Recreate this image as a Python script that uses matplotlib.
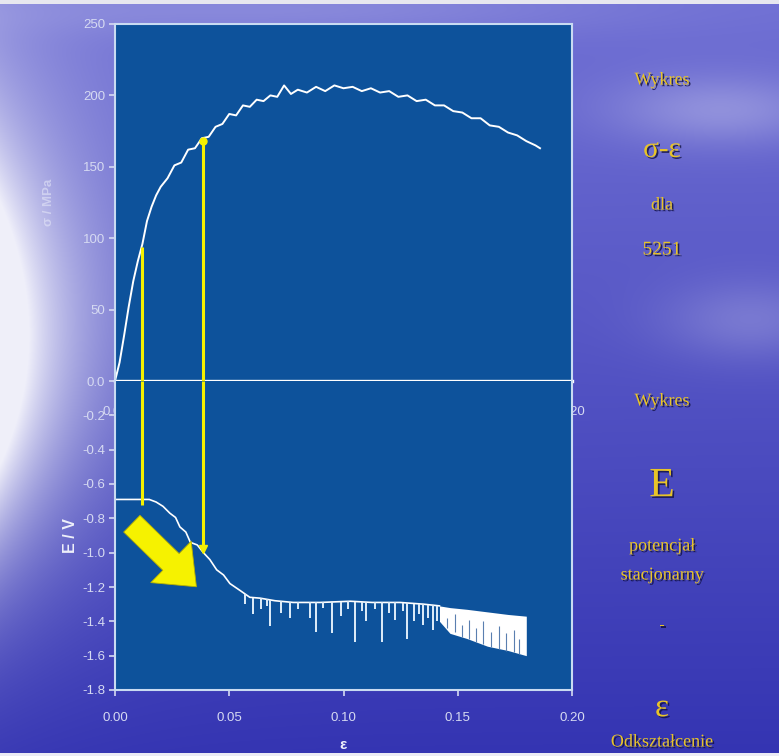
"""
Wykres sigma-epsilon oraz potencjal stacjonarny E - odksztalcenie dla 5251
"""

import numpy as np
import matplotlib
matplotlib.use('Agg')
from matplotlib import pyplot as plt
from matplotlib import patheffects as pe
from matplotlib.patches import FancyArrowPatch

plt.rcParams['font.family'] = ['Liberation Sans', 'DejaVu Sans']

# stress - strain curve
strain_s = [0.000, 0.002, 0.004, 0.006, 0.008, 0.010, 0.012, 0.014, 0.016, 0.018,
            0.020, 0.023, 0.026, 0.029, 0.032, 0.035, 0.038, 0.041, 0.044, 0.047,
            0.050, 0.053, 0.056, 0.059, 0.062, 0.065, 0.068, 0.071, 0.074, 0.077,
            0.080, 0.084, 0.088, 0.092, 0.096, 0.100, 0.104, 0.108, 0.112, 0.116,
            0.120, 0.124, 0.128, 0.132, 0.136, 0.140, 0.144, 0.148, 0.152, 0.156,
            0.160, 0.164, 0.168, 0.172, 0.176, 0.180, 0.184, 0.186]
stress = [0, 13, 32, 52, 70, 84, 96, 112, 122, 130,
          136, 142, 151, 153, 162, 163, 170, 171, 178, 180,
          187, 186, 193, 192, 197, 196, 200, 199, 207, 201,
          204, 202, 206, 203, 207, 205, 206, 203, 205, 202,
          203, 199, 200, 196, 197, 193, 193, 189, 188, 184,
          184, 179, 178, 174, 172, 168, 165, 163]

# stationary potential - strain (base line)
strain_e = [0.000, 0.015, 0.018, 0.021, 0.024, 0.0265, 0.0284, 0.031, 0.033, 0.036,
            0.0387, 0.0415, 0.0445, 0.0475, 0.0503, 0.0547, 0.059, 0.0635, 0.070, 0.078,
            0.0897, 0.103, 0.1125, 0.1247, 0.135, 0.142]
potential = [-0.69, -0.69, -0.705, -0.73, -0.77, -0.795, -0.85, -0.88, -0.94, -0.955,
             -1.00, -1.04, -1.10, -1.13, -1.18, -1.22, -1.26, -1.265, -1.28, -1.29,
             -1.29, -1.283, -1.29, -1.29, -1.30, -1.31]

# downward spikes of the potential
spike_x = [0.057, 0.0605, 0.064, 0.0665, 0.068, 0.0725, 0.0765, 0.080, 0.0853,
           0.088, 0.091, 0.0948, 0.099, 0.102, 0.105, 0.108, 0.110, 0.114, 0.1167,
           0.120, 0.1225, 0.126, 0.128, 0.131, 0.133, 0.135, 0.137, 0.139, 0.141]
spike_bottom = [-1.30, -1.36, -1.33, -1.31, -1.43, -1.35, -1.38, -1.33, -1.38,
                -1.46, -1.32, -1.47, -1.37, -1.33, -1.52, -1.34, -1.40, -1.33, -1.52,
                -1.35, -1.39, -1.34, -1.50, -1.40, -1.36, -1.42, -1.38, -1.45, -1.40]

# dense oscillation band at the end
band_x = [0.142, 0.1466, 0.154, 0.163, 0.172, 0.180]
band_top = [-1.31, -1.32, -1.33, -1.345, -1.36, -1.37]
band_bottom = [-1.40, -1.47, -1.50, -1.545, -1.57, -1.60]
gap_x = [0.1455, 0.149, 0.152, 0.155, 0.158, 0.161, 0.1645, 0.168, 0.171, 0.1745, 0.177]
gap_top = [-1.38, -1.36, -1.42, -1.39, -1.44, -1.40, -1.46, -1.43, -1.47, -1.45, -1.50]
gap_bottom = [-1.44, -1.46, -1.49, -1.50, -1.52, -1.53, -1.55, -1.56, -1.57, -1.58, -1.59]

# yellow markers linking both plots
link_x = [0.0117, 0.0387]
link_stress = [94, 168]
link_potential = [-0.72, -0.98]

yticks_s = [0, 50, 100, 150, 200, 250]
yticklabels_s = ["0.0", "50", "100", "150", "200", "250"]
yticks_e = [-0.2, -0.4, -0.6, -0.8, -1.0, -1.2, -1.4, -1.6, -1.8]
xticks = [0.00, 0.05, 0.10, 0.15, 0.20]
xticklabels = ["0.00", "0.05", "0.10", "0.15", "0.20"]

W, H = 779, 756
face = '#0d529b'
tickc = '#d6daf2'
spinec = '#c9dbf2'
gold = '#e8c428'


def background():
	yy, xx = np.mgrid[0:H, 0:W].astype(float)
	t = yy / H
	r = 112 + (52 - 112) * t
	g = 112 + (52 - 112) * t
	b = 212 + (178 - 212) * t
	glow = 0.95 * np.exp(-xx / 60.0) * np.exp(-((yy - 350) / 180.0) ** 2)
	glow += 0.55 * np.exp(-xx / 110.0) * np.exp(-((yy - 280) / 280.0) ** 2)
	cloud = 0.30 * np.exp(-((xx - 720) / 110.0) ** 2 - ((yy - 110) / 35.0) ** 2)
	cloud += 0.22 * np.exp(-((xx - 750) / 90.0) ** 2 - ((yy - 320) / 40.0) ** 2)
	cloud += 0.18 * np.exp(-((xx - 300) / 300.0) ** 2 - ((yy - 10) / 25.0) ** 2)
	k = np.clip(glow + cloud, 0, 1)
	img = np.stack([r + (240 - r) * k, g + (240 - g) * k, b + (250 - b) * k], axis=-1)
	img[:4] = [232, 232, 240]
	img[-3:] = [236, 236, 246]
	return img / 255.0


def main():
	fig = plt.figure(figsize=(W / 100, H / 100), dpi=100)
	bg = fig.add_axes([0, 0, 1, 1])
	bg.imshow(background(), aspect='auto', extent=[0, 1, 0, 1])
	bg.axis('off')

	left, width = 115 / W, 457 / W
	zero = 1 - 381 / H
	ax1 = fig.add_axes([left, zero, width, (381 - 24) / H])
	ax2 = fig.add_axes([left, 1 - 690 / H, width, (690 - 381) / H])

	# upper plot: stress
	ax1.set_facecolor(face)
	ax1.plot(strain_s, stress, color='white', lw=1.4)
	ax1.vlines(link_x, 0, link_stress, color='#f4f000', lw=2.2, zorder=3)
	ax1.plot(link_x[1], link_stress[1], 'o', color='#f4f000', ms=5, zorder=4)
	ax1.set_xlim(0, 0.20)
	ax1.set_ylim(0, 250)
	ax1.set_yticks(yticks_s)
	ax1.set_yticklabels(yticklabels_s)
	ax1.set_xticks(xticks)
	ax1.set_xticklabels(xticklabels)
	ax1.tick_params(colors=tickc, labelsize=9.5, length=4, width=1.2, pad=3)
	ax1.tick_params(axis='x', pad=14)
	for s in ax1.spines.values():
		s.set_color(spinec)
		s.set_linewidth(1.5)
	ax1.spines['bottom'].set_color('white')
	ax1.spines['bottom'].set_linewidth(2.4)
	ax1.set_ylabel("σ / MPa", color='#e4e6f8', alpha=0.6, fontsize=9.5,
		fontweight='bold', labelpad=20)

	# lower plot: stationary potential
	ax2.set_facecolor(face)
	ax2.plot(strain_e, potential, color='white', lw=1.2)
	spike_top = np.interp(spike_x, strain_e, potential)
	ax2.vlines(spike_x, spike_top, spike_bottom, color='#dfeefa', lw=1.4)
	ax2.fill_between(band_x, band_top, band_bottom, color='white', lw=0)
	ax2.vlines(gap_x, gap_top, gap_bottom, color='#5a7fb0', lw=0.8)
	ax2.vlines(link_x, 0, link_potential, color='#f4f000', lw=2.2, zorder=3)
	ax2.plot(link_x[1], link_potential[1], 'v', color='#f4f000', ms=6, zorder=4)
	arrow = FancyArrowPatch((0.0065, -0.82), (0.0365, -1.21),
		arrowstyle='simple,head_width=2.6,head_length=1.6,tail_width=1.05',
		mutation_scale=16, facecolor='#f6f200', edgecolor='#b8b000', lw=0.6, zorder=5)
	ax2.add_patch(arrow)
	ax2.set_xlim(0, 0.20)
	ax2.set_ylim(-1.8, 0)
	ax2.set_yticks(yticks_e)
	ax2.set_yticklabels(["%.1f" % v for v in yticks_e])
	ax2.set_xticks(xticks)
	ax2.set_xticklabels(xticklabels)
	ax2.tick_params(colors=tickc, labelsize=9.5, length=4, width=1.2, pad=12)
	ax2.tick_params(axis='y', pad=3)
	for s in ax2.spines.values():
		s.set_color(spinec)
		s.set_linewidth(1.5)
	ax2.spines['top'].set_visible(False)
	ax2.set_ylabel("E / V", color='#eef0fa', fontsize=11.5, fontweight='bold', labelpad=3)
	ax2.set_xlabel("ε", color='#eef0fa', fontsize=11, fontweight='bold', labelpad=10)

	# side captions
	shadow = [pe.withSimplePatchShadow(offset=(1.2, -1.2), shadow_rgbFace='#101040', alpha=0.8)]
	notes = [("Wykres", 80, 13), ("σ-ε", 150, 21), ("dla", 205, 13), ("5251", 250, 14),
		("Wykres", 401, 13), ("E", 486, 30), ("potencjał", 546, 13), ("stacjonarny", 575, 13),
		("-", 625, 13), ("ε", 708, 24), ("Odkształcenie", 742, 13)]
	for text, y, size in notes:
		fig.text(662 / W, 1 - y / H, text, color=gold, fontsize=size,
			family='Liberation Serif', ha='center', va='center', path_effects=shadow)

	plt.savefig("out.png", dpi=100)


if __name__ == '__main__':
	main()
